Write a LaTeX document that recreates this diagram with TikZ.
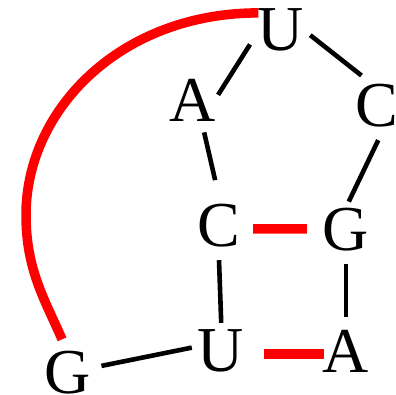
\documentclass[tikz,border=0pt]{standalone}
\usepackage{fontspec}
\setmainfont{Liberation Serif}
\tikzset{
    nuc/.style={circle, inner sep=0pt, minimum size=68pt, font=\fontsize{64}{74}\selectfont},
    bond/.style={line width=4.6pt, black},
    pairing/.style={line width=9.5pt, red}
}
\begin{document}
\begin{tikzpicture}
    [x=1pt, y=-1pt]
    \useasboundingbox (0,0) rectangle (396,395);
    %bases
    \node[nuc] (u1) at (281,30) {U};
    \node[nuc] (a1) at (193,100) {A};
    \node[nuc] (c1) at (377,106) {C};
    \node[nuc] (c2) at (219,226) {C};
    \node[nuc] (g2) at (346,230) {G};
    \node[nuc] (u2) at (221,351) {U};
    \node[nuc] (a2) at (346,351) {A};
    \node[nuc] (g1) at (68,373) {G};
    %backbone
    \draw[bond, shorten >=-11pt] (u1.205) -- (a1.25);
    \draw[bond, shorten <=-5pt] (u1.346) -- (c1.117);
    \draw[bond, shorten >=12pt] (a1.289) -- (c2.92);
    \draw[bond, shorten >=-6pt] (c1.272) -- (g2.81);
    \draw[bond, shorten >=-6pt] (c2.270) -- (u2.90);
    \draw[bond] (g2.270) -- (a2.90);
    \draw[bond, shorten >=-5pt] (g1.12) -- (u2.176);
    %pairs
    \draw[pairing, shorten >=5pt] (c2.355) -- (g2.178);
    \draw[pairing, shorten <=9pt, shorten >=-12pt] (u2.355) -- (a2.185);
    \coordinate (arcleft) at (26,215);
    \draw[pairing, shorten <=-7pt] (u1.150) .. controls (120,13) and (26,110) .. (arcleft)
        .. controls (26,270) and (45,300) .. (g1.100);
\end{tikzpicture}
\end{document}
